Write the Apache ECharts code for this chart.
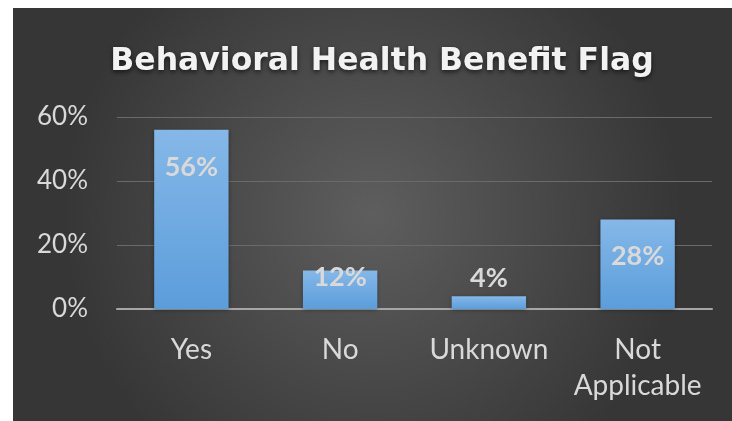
<!DOCTYPE html>
<html>
<head>
<meta charset="utf-8">
<script src="https://cdn.jsdelivr.net/npm/echarts@6/dist/echarts.min.js"></script>
<style>
  html, body { margin: 0; padding: 0; background: #ffffff; }
  #chart { position: absolute; left: 13px; top: 8px; width: 719px; height: 413px; }
</style>
</head>
<body>
<div id="chart"></div>
<script>
// Share of records by behavioral health benefit flag
const categories = ['Yes', 'No', 'Unknown', 'Not\nApplicable'];
const shares = [0.56, 0.12, 0.04, 0.28];
const yTicks = [0, 0.2, 0.4, 0.6];

// vertical placement of each value label, measured from the bar's top edge
const labelDy = [37, 7, -18, 37];

const chart = echarts.init(document.getElementById('chart'));

chart.setOption({
  backgroundColor: {
    type: 'radial', x: 0.5, y: 0.5, r: 0.75,
    colorStops: [
      { offset: 0, color: '#5e5e5e' },
      { offset: 1, color: '#363636' }
    ]
  },
  title: {
    text: 'Behavioral Health Benefit Flag',
    left: 364,
    top: 33,
    textAlign: 'center',
    textStyle: {
      fontFamily: 'DejaVu Sans',
      fontWeight: 'bold',
      fontSize: 31.5,
      color: '#f2f2f2',
      textShadowColor: 'rgba(0,0,0,0.65)',
      textShadowBlur: 5,
      textShadowOffsetY: 2
    }
  },
  grid: { left: 104, right: 20, top: 109, bottom: 112, containLabel: false },
  xAxis: {
    type: 'category',
    data: categories,
    axisLine: { lineStyle: { color: '#a6a6a6', width: 2 } },
    axisTick: { show: false },
    axisLabel: {
      color: '#d9d9d9',
      fontFamily: 'Lato',
      fontSize: 28,
      lineHeight: 36,
      margin: 23,
      interval: 0
    }
  },
  yAxis: {
    type: 'value',
    min: yTicks[0],
    max: yTicks[yTicks.length - 1],
    interval: yTicks[1] - yTicks[0],
    axisLine: { show: false },
    axisTick: { show: false },
    splitLine: { lineStyle: { color: '#6a6a6a', width: 1 } },
    axisLabel: {
      color: '#d9d9d9',
      fontFamily: 'Lato',
      fontSize: 26,
      margin: 29,
      padding: [5, 0, 0, 0],
      formatter: v => Math.round(v * 100) + '%'
    }
  },
  series: [{
    type: 'bar',
    barWidth: '50%',
    data: shares.map((v, i) => ({
      value: v,
      label: { position: ['50%', labelDy[i]] }
    })),
    itemStyle: {
      color: {
        type: 'linear', x: 0, y: 0, x2: 0, y2: 1,
        colorStops: [
          { offset: 0, color: '#85b8e8' },
          { offset: 1, color: '#5b9ddb' }
        ]
      },
      shadowColor: 'rgba(0,0,0,0.35)',
      shadowBlur: 4,
      shadowOffsetY: 1
    },
    label: {
      show: true,
      align: 'center',
      verticalAlign: 'middle',
      fontFamily: 'Lato',
      fontWeight: 'bold',
      fontSize: 27,
      color: '#d9d9d9',
      formatter: p => Math.round(p.value * 100) + '%'
    }
  }]
});
</script>
</body>
</html>
